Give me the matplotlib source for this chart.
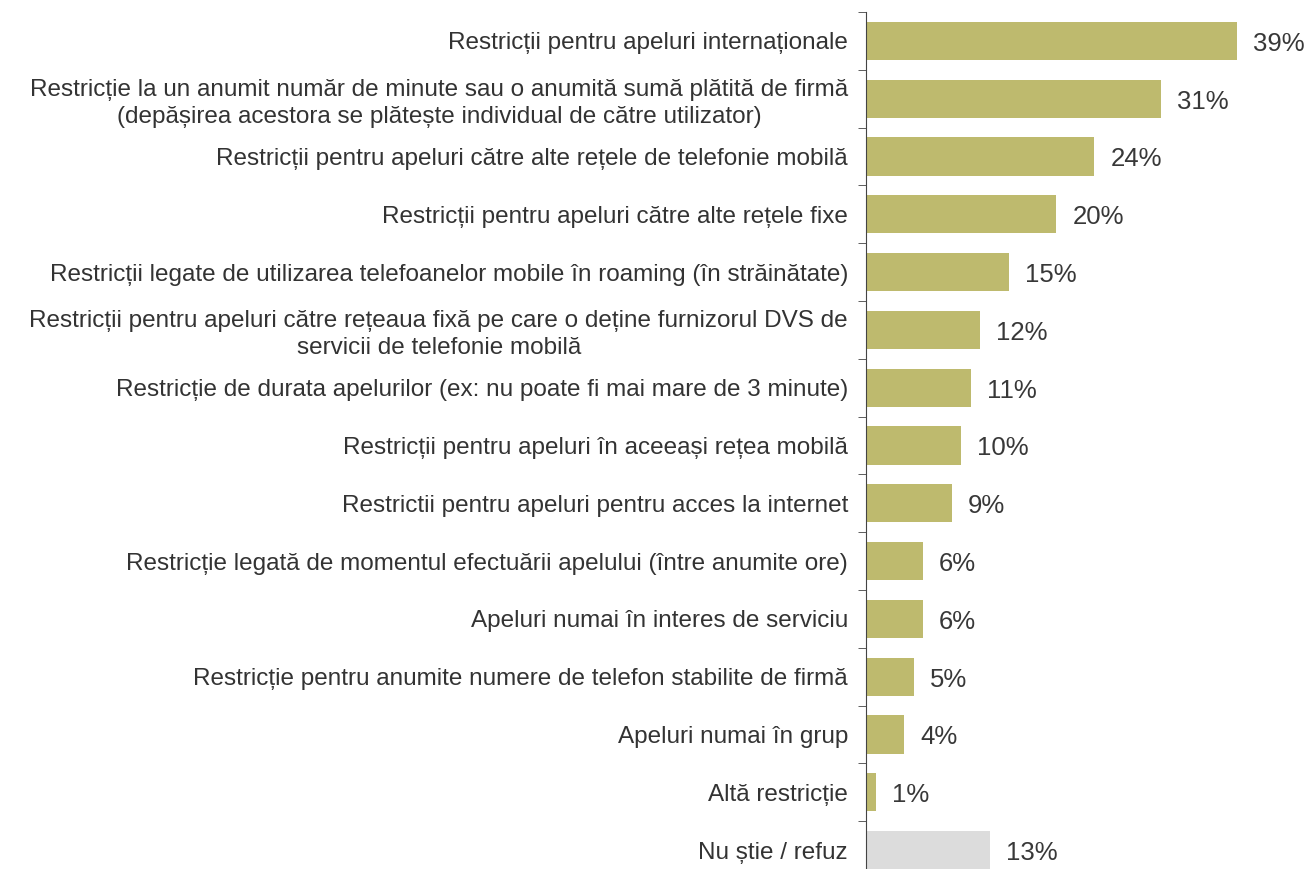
import numpy as np
import matplotlib
matplotlib.use("Agg")
from matplotlib import pyplot as plt

labels = [
    "Restricții pentru apeluri internaționale",
    "Restricție la un anumit număr de minute sau o anumită sumă plătită de firmă\n(depășirea acestora se plătește individual de către utilizator)",
    "Restricții pentru apeluri către alte rețele de telefonie mobilă",
    "Restricții pentru apeluri către alte rețele fixe",
    "Restricții legate de utilizarea telefoanelor mobile în roaming (în străinătate)",
    "Restricții pentru apeluri către rețeaua fixă pe care o deține furnizorul DVS de\nservicii de telefonie mobilă",
    "Restricție de durata apelurilor (ex: nu poate fi mai mare de 3 minute)",
    "Restricții pentru apeluri în aceeași rețea mobilă",
    "Restrictii pentru apeluri pentru acces la internet",
    "Restricție legată de momentul efectuării apelului (între anumite ore)",
    "Apeluri numai în interes de serviciu",
    "Restricție pentru anumite numere de telefon stabilite de firmă",
    "Apeluri numai în grup",
    "Altă restricție",
    "Nu știe / refuz",
]
values = [39, 31, 24, 20, 15, 12, 11, 10, 9, 6, 6, 5, 4, 1, 13]
colors = ["#BEBA6E"] * 14 + ["#DCDCDC"]

plt.rcParams["font.family"] = ["Liberation Sans", "DejaVu Sans"]

fig = plt.figure(figsize=(13.11, 8.69), dpi=100)
ax = fig.add_axes([866 / 1311, -10 / 869, 1 - 866 / 1311, 867 / 869])

y = np.arange(len(values))
ax.barh(y, values, height=0.66, color=colors)
ax.set_ylim(len(values) - 0.5, -0.5)
ax.set_xlim(0, 46.8)

for yi, v in zip(y, values):
    ax.text(v + 1.7, yi + 0.05, f"{v}%", va="center", ha="left", fontsize=18.5, color="#383838")

ax.set_yticks(y)
ax.set_yticklabels(labels, fontsize=17.5, color="#333333", multialignment="center", linespacing=1.3)
ax.tick_params(axis="y", which="major", length=0, pad=13)
ax.set_yticks(np.arange(-0.5, len(values), 1), minor=True)
ax.tick_params(axis="y", which="minor", length=6, color="#444444", direction="out")
ax.set_xticks([])
for s in ["top", "right", "bottom"]:
    ax.spines[s].set_visible(False)
ax.spines["left"].set_color("#444444")

fig.savefig("out.png", dpi=100)
